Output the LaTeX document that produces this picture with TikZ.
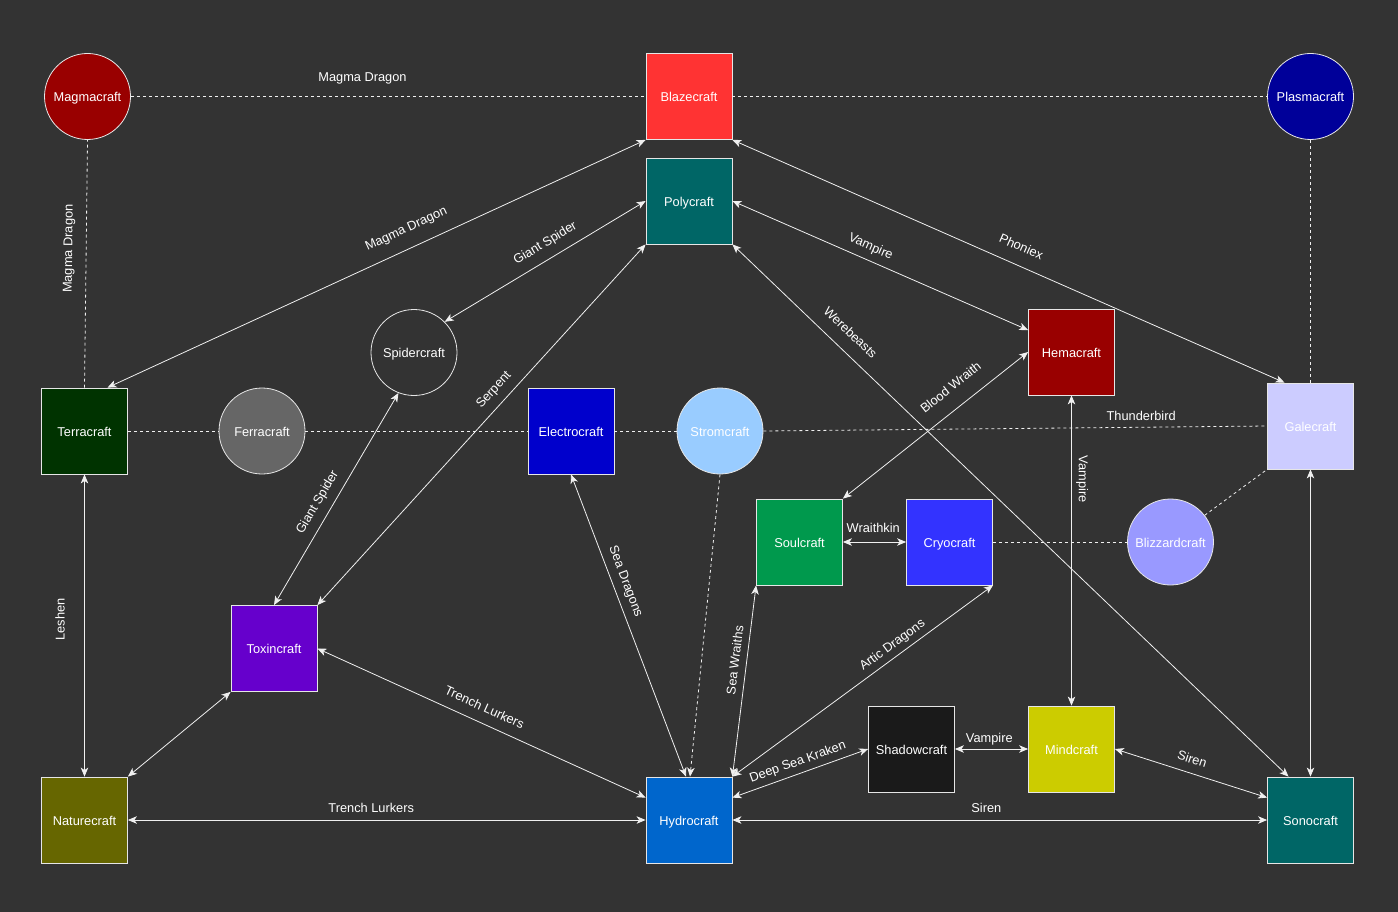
\documentclass[tikz,border=0pt]{standalone}
\usepackage{fontspec}
\setmainfont{Liberation Sans}
\usepackage{tikz}
\usetikzlibrary{arrows.meta, shapes.geometric}
\definecolor{bgdark}{HTML}{333333}
\definecolor{craftedge}{HTML}{E6E6E6}
\definecolor{linkwhite}{HTML}{F0F0F0}
\definecolor{magmared}{HTML}{990000}
\definecolor{blazered}{HTML}{FF3333}
\definecolor{plasmablue}{HTML}{000099}
\definecolor{polyteal}{HTML}{006666}
\definecolor{terragreen}{HTML}{003300}
\definecolor{ferragray}{HTML}{666666}
\definecolor{electroblue}{HTML}{0000CC}
\definecolor{stromblue}{HTML}{99CCFF}
\definecolor{galelilac}{HTML}{CCCCFF}
\definecolor{soulgreen}{HTML}{00994D}
\definecolor{cryoblue}{HTML}{3333FF}
\definecolor{blizzardlilac}{HTML}{9999FF}
\definecolor{toxinpurple}{HTML}{6600CC}
\definecolor{shadowblack}{HTML}{1A1A1A}
\definecolor{mindyellow}{HTML}{CCCC00}
\definecolor{natureolive}{HTML}{666600}
\definecolor{hydroblue}{HTML}{0066CC}
\newcommand{\craftfont}{\fontsize{12.8}{15}\selectfont}
\tikzset{
  craftbox/.style = {
    rectangle,
    draw=craftedge,
    text=white,
    font=\craftfont,
    minimum size=86pt,
    inner sep=0pt,
    text height=10.8pt,
    text depth=0pt,
    line width=0.8pt
  },
  craftorb/.style = {
    circle,
    draw=craftedge,
    text=white,
    font=\craftfont,
    minimum size=86pt,
    inner sep=0pt,
    text height=10.8pt,
    text depth=0pt,
    line width=0.8pt
  },
  link/.style = {
    <->,
    draw=linkwhite,
    line width=0.8pt
  },
  dashlink/.style = {
    draw=linkwhite,
    line width=0.8pt,
    dash pattern=on 3pt off 3pt
  },
  tag/.style = {
    text=white,
    font=\craftfont,
    inner sep=1pt,
    text height=9pt,
    text depth=2.5pt
  }
}

\begin{document}
\begin{tikzpicture}[x=1pt, y=-1pt, >={Stealth[length=9pt, width=7.5pt, inset=2.5pt]}]
  \fill[bgdark] (0,0) rectangle (1398,912);
  \useasboundingbox (0,0) rectangle (1398,912);

  % Top row
  \node[craftorb, fill=magmared] (magma) at (87.5, 96.5) {Magmacraft};
  \node[craftbox, fill=blazered] (blaze) at (689, 96.5) {Blazecraft};
  \node[craftorb, fill=plasmablue] (plasma) at (1310.5, 96.5) {Plasmacraft};
  \node[craftbox, fill=polyteal] (poly) at (689, 201) {Polycraft};

  % Middle rows
  \node[craftorb, fill=bgdark] (spider) at (414, 352.5) {Spidercraft};
  \node[craftbox, fill=magmared] (hema) at (1071.5, 352) {Hemacraft};
  \node[craftbox, fill=terragreen] (terra) at (84.5, 431) {Terracraft};
  \node[craftorb, fill=ferragray] (ferra) at (262, 431) {Ferracraft};
  \node[craftbox, fill=electroblue] (electro) at (571, 431) {Electrocraft};
  \node[craftorb, fill=stromblue] (strom) at (720, 431) {Stromcraft};
  \node[craftbox, fill=galelilac] (gale) at (1310.5, 426) {Galecraft};
  \node[craftbox, fill=soulgreen] (soul) at (799.5, 542) {Soulcraft};
  \node[craftbox, fill=cryoblue] (cryo) at (949.5, 542) {Cryocraft};
  \node[craftorb, fill=blizzardlilac] (blizzard) at (1170.5, 542) {Blizzardcraft};
  \node[craftbox, fill=toxinpurple] (toxin) at (274, 648.5) {Toxincraft};

  % Bottom rows
  \node[craftbox, fill=shadowblack] (shadow) at (911.5, 749) {Shadowcraft};
  \node[craftbox, fill=mindyellow] (mind) at (1071.5, 749) {Mindcraft};
  \node[craftbox, fill=natureolive] (nature) at (84.5, 820) {Naturecraft};
  \node[craftbox, fill=hydroblue] (hydro) at (689, 820) {Hydrocraft};
  \node[craftbox, fill=polyteal] (sono) at (1310.5, 820) {Sonocraft};

  % Dashed links
  \draw[dashlink] (magma.east) -- (blaze.west) node[tag, pos=0.45, above=11.5pt] {Magma Dragon};
  \draw[dashlink] (blaze.east) -- (plasma.west);
  \draw[dashlink] (terra.north) -- (magma.south) node[tag, pos=0.56, sloped, above=10pt] {Magma Dragon};
  \draw[dashlink] (plasma.south) -- (gale.north);
  \draw[dashlink] (terra.east) -- (ferra.west);
  \draw[dashlink] (ferra.east) -- (electro.west);
  \draw[dashlink] (electro.east) -- (strom.west);
  \draw[dashlink] (strom.east) -- (gale.west) node[tag, pos=0.75, above=2.5pt] {Thunderbird};
  \draw[dashlink, ->] (strom.south) -- ([xshift=1pt]hydro.north);
  \draw[dashlink] (cryo.east) -- (blizzard.west);
  \draw[dashlink] (blizzard.38) -- (gale.south west);

  % Upper links
  \draw[link] ([xshift=23pt]terra.north) -- (blaze.south west) node[tag, pos=0.57, sloped, above=11.6pt] {Magma Dragon};
  \draw[link] (spider.45) -- (poly.west) node[tag, pos=0.54, sloped, above=8pt] {Giant Spider};
  \draw[link] (toxin.north east) -- (poly.south west) node[tag, pos=0.57, sloped, above=7pt] {Serpent};
  \draw[link] (toxin.north) -- (spider.249) node[tag, pos=0.45, sloped, above=7pt] {Giant Spider};
  \draw[link] (poly.east) -- ([yshift=-21.5pt]hema.north west) node[tag, pos=0.45, sloped, above=5.7pt] {Vampire};
  \draw[link] (blaze.south east) -- ([xshift=-26pt]gale.north) node[tag, pos=0.51, sloped, above=10pt] {Phoniex};
  \draw[link] (poly.south east) -- ([xshift=-22pt]sono.north) node[tag, pos=0.19, sloped, above=9.7pt] {Werebeasts};
  \draw[link] (soul.north east) -- (hema.west) node[tag, pos=0.65, sloped, above=12pt] {Blood Wraith};
  \draw[link] (hema.south) -- (mind.north) node[tag, pos=0.27, sloped, above=3.5pt] {Vampire};
  \draw[link] (gale.south) -- (sono.north);

  % Links into Hydrocraft
  \draw[link] (electro.south) -- ([xshift=-3pt]hydro.north) node[tag, pos=0.37, sloped, above=5.5pt] {Sea Dragons};
  \draw[link] (hydro.north east) -- (soul.south west) node[tag, pos=0.6, sloped, above=3.5pt] {Sea Wraiths};
  \draw[link] (hydro.north east) -- (cryo.south east) node[tag, pos=0.64, sloped, above=3.8pt] {Artic Dragons};
  \draw[link] ([yshift=-21pt]hydro.north east) -- (shadow.west) node[tag, pos=0.51, sloped, above=4pt] {Deep Sea Kraken};
  \draw[link] (toxin.east) -- ([yshift=-21pt]hydro.north west) node[tag, pos=0.49, sloped, above=7pt] {Trench Lurkers};
  \draw[link] (nature.east) -- (hydro.west) node[tag, pos=0.47, above=3.8pt] {Trench Lurkers};
  \draw[link] (hydro.east) -- (sono.west) node[tag, pos=0.475, above=4pt] {Siren};

  % Lower links
  \draw[link] (soul.east) -- (cryo.west) node[tag, pos=0.48, above=5.7pt] {Wraithkin};
  \draw[link] (shadow.east) -- (mind.west) node[tag, pos=0.47, above=2.7pt] {Vampire};
  \draw[link] (mind.east) -- ([yshift=-21pt]sono.north west) node[tag, pos=0.48, sloped, above=5.5pt] {Siren};
  \draw[link] (nature.north east) -- (toxin.south west);
  \draw[link] (nature.north) -- (terra.south) node[tag, pos=0.52, sloped, above=16pt] {Leshen};
\end{tikzpicture}
\end{document}
